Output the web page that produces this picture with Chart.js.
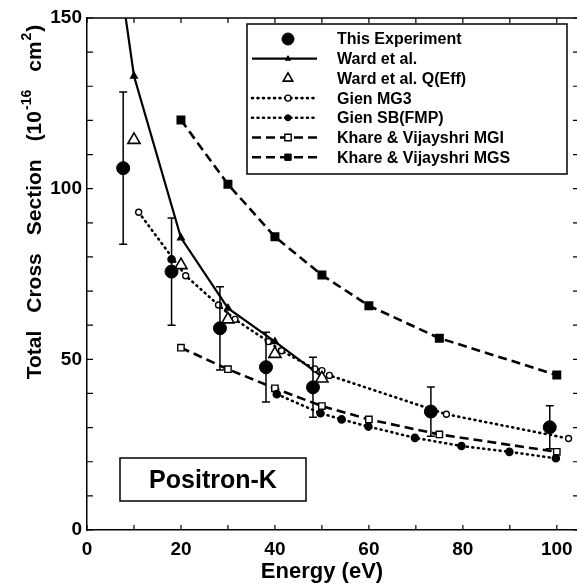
<!DOCTYPE html>
<html>
<head>
<meta charset="utf-8">
<script src="https://cdn.jsdelivr.net/npm/chart.js@4.4.1/dist/chart.umd.min.js"></script>
<style>
  html, body { margin: 0; padding: 0; background: #fff; }
  canvas { display: block; }
</style>
</head>
<body>
<canvas id="chart" width="577" height="584"></canvas>
<script>
// values (energy in eV, cross section in 1e-16 cm^2)
var expEnergy = [7.7, 18.0, 28.3, 38.1, 48.1, 73.2, 98.5];
var expQ = [106.0, 75.7, 59.1, 47.7, 41.8, 34.7, 30.1];
var expErr = [22.3, 15.7, 12.2, 10.2, 8.8, 7.2, 6.3];

var wardEnergy = [7, 10, 20, 30, 40, 50];
var wardQ = [162, 133, 85.6, 65, 55.2, 44.9];

var wardEffEnergy = [10, 20, 30, 40, 50];
var wardEffQ = [114.3, 77.6, 61.7, 51.6, 44.4];

var mg3Energy = [11, 21, 28, 31.5, 38.6, 41.4, 48.5, 50, 51.6, 76.5, 102.5];
var mg3Q = [93.1, 74.5, 65.9, 61.7, 55.2, 52.5, 47.2, 46.7, 45.3, 33.9, 26.8];

var sbEnergy = [18, 30, 40.4, 49.7, 54.2, 59.9, 69.8, 79.7, 89.9, 99.8];
var sbQ = [79.3, null, 39.8, 34.2, 32.4, 30.3, 27.0, 24.6, 22.9, 21.0];

var mgiEnergy = [20, 30, 40, 50, 60, 75, 100];
var mgiQ = [53.4, 47.1, 41.5, 36.3, 32.4, 28.0, 22.9];

var mgsEnergy = [20, 30, 40, 50, 60, 75, 100];
var mgsQ = [120.1, 101.3, 85.9, 74.7, 65.7, 56.2, 45.4];

var xTickValues = [0, 20, 40, 60, 80, 100];
var yTickValues = [0, 50, 100, 150];

var FONT = '"Liberation Sans", Arial, Helvetica, sans-serif';

function pts(xs, ys) {
  return xs.map(function(x, i) { return {x: x, y: ys[i]}; });
}

var DOTTED = [1, 4.5];
var DASHED = [9, 5];

var datasets = [
  {label: 'This Experiment', data: pts(expEnergy, expQ), showLine: false,
   pointStyle: 'circle', pointRadius: 6.5, backgroundColor: '#000', borderColor: '#000', order: 0},
  {label: 'Ward et al.', data: pts(wardEnergy, wardQ), showLine: true, borderWidth: 2.2,
   pointStyle: 'triangle', pointRadius: 3, backgroundColor: '#000', borderColor: '#000', order: 3},
  {label: 'Ward et al. Q(Eff)', data: pts(wardEffEnergy, wardEffQ), showLine: false,
   pointStyle: 'triangle', pointRadius: 7, pointBorderWidth: 1.6, backgroundColor: '#fff', borderColor: '#000', order: 1},
  {label: 'Gien MG3', data: pts(mg3Energy, mg3Q), showLine: true, borderWidth: 2.6, borderDash: DOTTED, borderCapStyle: 'round',
   pointStyle: 'circle', pointRadius: 3, pointBorderWidth: 1.4, backgroundColor: '#fff', borderColor: '#000', order: 2},
  {label: 'Gien SB(FMP)', data: pts(sbEnergy, sbQ), showLine: true, borderWidth: 2.6, borderDash: DOTTED, borderCapStyle: 'round',
   pointStyle: 'circle', pointRadius: 3, backgroundColor: '#000', borderColor: '#000', order: 4},
  {label: 'Khare & Vijayshri MGI', data: pts(mgiEnergy, mgiQ), showLine: true, borderWidth: 2.6, borderDash: DASHED,
   pointStyle: 'rect', pointRadius: 4.5, pointBorderWidth: 1.4, backgroundColor: '#fff', borderColor: '#000', order: 5},
  {label: 'Khare & Vijayshri MGS', data: pts(mgsEnergy, mgsQ), showLine: true, borderWidth: 2.6, borderDash: DASHED,
   pointStyle: 'rect', pointRadius: 4.5, backgroundColor: '#000', borderColor: '#000', order: 6}
];
datasets.forEach(function(d) { d.spanGaps = false; d.fill = false; d.tension = 0; });

// error bars on the experiment points
var errorBars = {
  id: 'errorBars',
  afterDatasetsDraw: function(chart) {
    var ctx = chart.ctx, x = chart.scales.x, y = chart.scales.y;
    ctx.save();
    ctx.strokeStyle = '#000';
    ctx.lineWidth = 1.5;
    expEnergy.forEach(function(e, i) {
      var px = x.getPixelForValue(e);
      var top = y.getPixelForValue(expQ[i] + expErr[i]);
      var bot = y.getPixelForValue(expQ[i] - expErr[i]);
      ctx.beginPath();
      ctx.moveTo(px, top); ctx.lineTo(px, bot);
      ctx.moveTo(px - 4, top); ctx.lineTo(px + 4, top);
      ctx.moveTo(px - 4, bot); ctx.lineTo(px + 4, bot);
      ctx.stroke();
    });
    ctx.restore();
  }
};

// frame, inward ticks, axis titles, legend box and label box
var decorations = {
  id: 'decorations',
  afterDraw: function(chart) {
    var ctx = chart.ctx, a = chart.chartArea, x = chart.scales.x, y = chart.scales.y;
    ctx.save();
    ctx.strokeStyle = '#000';
    ctx.lineWidth = 1.5;
    ctx.beginPath();
    ctx.moveTo(a.left, a.top); ctx.lineTo(a.right, a.top);
    ctx.stroke();

    ctx.lineWidth = 1.2;
    ctx.beginPath();
    for (var v = 0; v <= 100; v += 10) {
      var px = x.getPixelForValue(v);
      ctx.moveTo(px, a.bottom); ctx.lineTo(px, a.bottom - 5);
      ctx.moveTo(px, a.top); ctx.lineTo(px, a.top + 5);
    }
    for (var w = 0; w <= 150; w += 10) {
      var py = y.getPixelForValue(w);
      ctx.moveTo(a.left, py); ctx.lineTo(a.left + 6, py);
      ctx.moveTo(a.right, py); ctx.lineTo(a.right - 4, py);
    }
    ctx.stroke();

    // x axis title
    ctx.fillStyle = '#000';
    ctx.font = 'bold 22px ' + FONT;
    ctx.textAlign = 'center';
    ctx.textBaseline = 'middle';
    ctx.fillText('Energy (eV)', 322, 572);

    // y axis title with superscripts
    var big = 'bold 21px ' + FONT, small = 'bold 14px ' + FONT;
    var parts = [
      ['Total', big, 0, 0], ['Cross', big, 0, 18], ['Section', big, 0, 18],
      ['(10', big, 0, 18], ['-16', small, -8, 1], ['cm', big, 0, 18], ['2', small, -8, 1], [')', big, 0, 1]
    ];
    var total = 0;
    parts.forEach(function(p) { ctx.font = p[1]; p.push(ctx.measureText(p[0]).width); total += p[3] + p[4]; });
    ctx.translate(34, 202);
    ctx.rotate(-Math.PI / 2);
    ctx.textAlign = 'left';
    var cx = -total / 2;
    parts.forEach(function(p) {
      cx += p[3];
      ctx.font = p[1];
      ctx.fillText(p[0], cx, p[2] + 1);
      cx += p[4];
    });
    ctx.setTransform(1, 0, 0, 1, 0, 0);

    // legend
    ctx.fillStyle = '#fff';
    ctx.fillRect(247, 24, 320, 150);
    ctx.lineWidth = 1.5;
    ctx.strokeRect(247, 24, 320, 150);
    chart.data.datasets.forEach(function(d, i) {
      var ry = 39 + i * 19.7;
      if (d.showLine) {
        ctx.save();
        ctx.lineWidth = d.borderWidth;
        ctx.setLineDash(d.borderDash || []);
        ctx.lineCap = d.borderCapStyle || 'butt';
        ctx.beginPath();
        ctx.moveTo(252, ry); ctx.lineTo(317, ry);
        ctx.stroke();
        ctx.restore();
      }
      ctx.fillStyle = d.backgroundColor;
      ctx.strokeStyle = '#000';
      ctx.lineWidth = d.pointBorderWidth || 1;
      var r = d.pointRadius;
      if (i === 0) r = 6;
      if (i === 2) r = 5.5;
      Chart.helpers.drawPoint(ctx, {pointStyle: d.pointStyle, radius: r, rotation: 0, borderWidth: ctx.lineWidth}, 288, ry);
      ctx.fillStyle = '#000';
      ctx.font = 'bold 16px ' + FONT;
      ctx.textAlign = 'left';
      ctx.textBaseline = 'middle';
      ctx.fillText(d.label, 337, ry + 1);
    });

    // label box
    ctx.fillStyle = '#fff';
    ctx.fillRect(120, 458, 186, 43);
    ctx.strokeStyle = '#000';
    ctx.lineWidth = 1.5;
    ctx.strokeRect(120, 458, 186, 43);
    ctx.fillStyle = '#000';
    ctx.font = 'bold 25px ' + FONT;
    ctx.textAlign = 'center';
    ctx.textBaseline = 'middle';
    ctx.fillText('Positron-K', 213, 481);
    ctx.restore();
  }
};

var tickFont = {family: FONT, weight: 'bold', size: 19};

new Chart(document.getElementById('chart'), {
  type: 'scatter',
  data: {datasets: datasets},
  options: {
    responsive: false,
    animation: false,
    layout: {autoPadding: false, padding: {top: 18, right: 0, left: 0, bottom: 0}},
    plugins: {legend: {display: false}, tooltip: {enabled: false}},
    scales: {
      x: {
        type: 'linear', min: 0, max: 104.3,
        afterFit: function(s) { s.height = 54; s.paddingLeft = 0; s.paddingRight = 0; },
        afterBuildTicks: function(s) { s.ticks = xTickValues.map(function(v) { return {value: v}; }); },
        grid: {display: false, drawTicks: false},
        border: {display: true, color: '#000', width: 1.5},
        ticks: {padding: 8, color: '#000', font: tickFont, maxRotation: 0, autoSkip: false}
      },
      y: {
        type: 'linear', min: 0, max: 150,
        afterFit: function(s) { s.width = 87; s.paddingTop = 0; s.paddingBottom = 0; },
        afterBuildTicks: function(s) { s.ticks = yTickValues.map(function(v) { return {value: v}; }); },
        grid: {display: false, drawTicks: false},
        border: {display: true, color: '#000', width: 1.5},
        ticks: {padding: 5, color: '#000', font: tickFont}
      }
    }
  },
  plugins: [errorBars, decorations]
});
</script>
</body>
</html>
